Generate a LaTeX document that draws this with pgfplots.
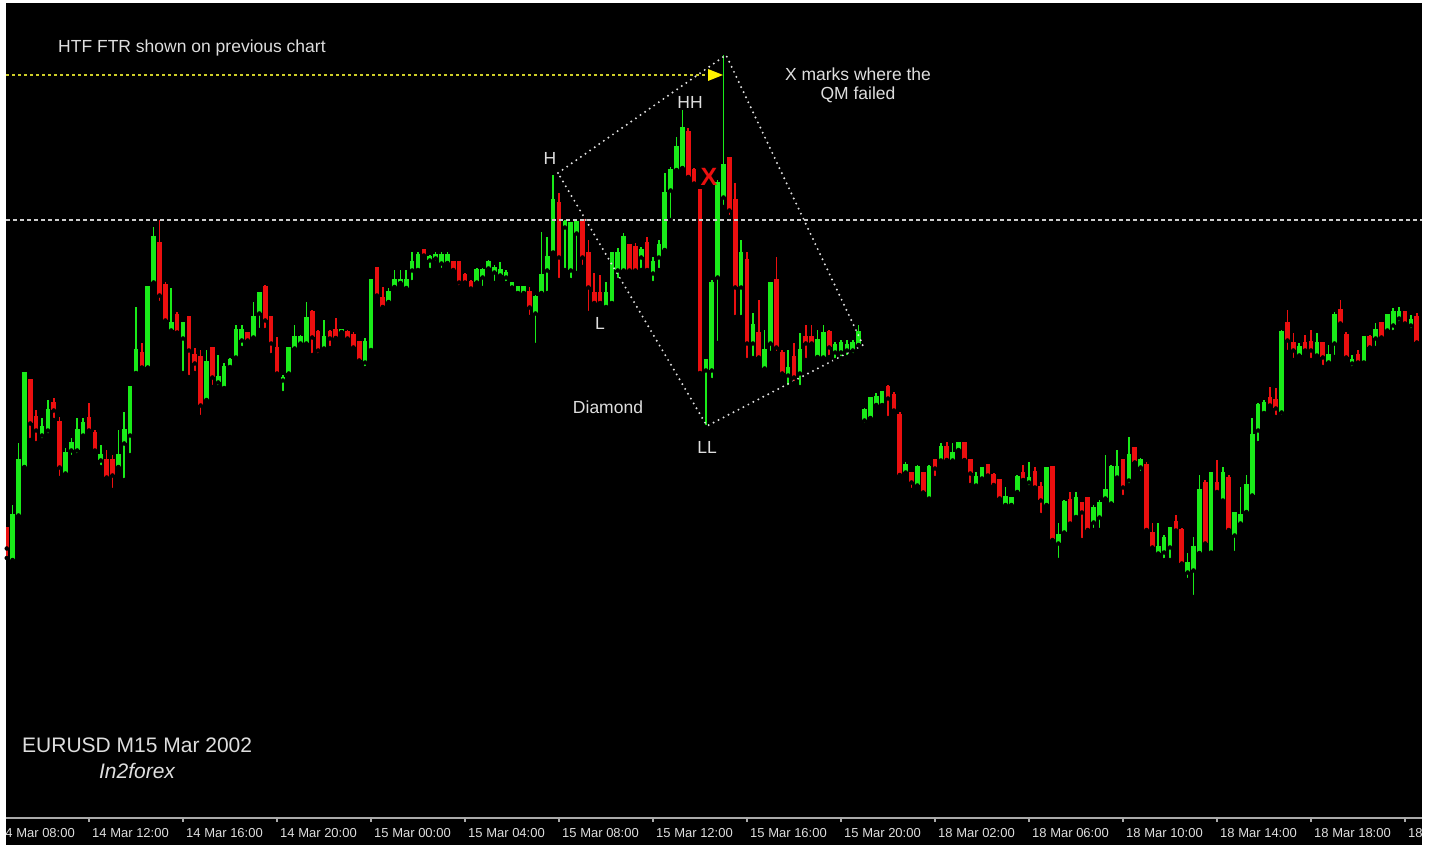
\documentclass[border=0pt]{standalone}
\usepackage{fontspec}
\setmainfont{Liberation Sans}
\usepackage{pgfplots}
\usepackage{pgfplotstable}
\pgfplotsset{compat=1.18}
\definecolor{cgreen}{RGB}{25,235,25}
\definecolor{cred}{RGB}{235,15,15}
\definecolor{txt}{RGB}{222,222,222}
\definecolor{axisgray}{RGB}{170,170,170}
\definecolor{hyellow}{RGB}{205,205,40}
\definecolor{dashgray}{RGB}{205,205,205}

% candle index, open, high, low, close (screen pixel rows, top = 0)
\pgfplotstableread{
i o h l c
2 528 528 558 548
3 560 505 560 515
4 515 443 517 460
5 467 373 467 373
6 380 380 440 423
7 417 410 443 430
8 435 418 440 427
9 430 400 435 410
10 403 398 420 410
11 422 417 478 467
12 473 448 475 453
13 450 438 457 443
14 450 418 455 430
15 435 418 437 423
16 418 403 433 430
17 433 430 453 450
18 460 445 467 455
19 460 450 478 477
20 460 455 490 475
21 467 430 467 455
22 443 412 480 430
23 435 387 455 387
24 373 307 373 350
25 353 343 368 367
26 367 287 368 287
27 282 227 283 237
28 243 220 303 295
29 285 282 322 320
30 330 288 332 323
31 315 312 333 332
32 338 323 373 323
33 317 317 377 350
34 355 348 373 363
35 357 350 417 405
36 400 350 400 362
37 348 348 387 377
38 382 355 387 377
39 388 363 388 367
40 367 358 367 360
41 357 325 360 330
42 340 325 348 330
43 333 332 343 340
44 337 302 338 317
45 313 292 330 293
46 287 285 330 320
47 317 317 355 343
48 348 337 375 373
49 380 375 393 378
50 373 347 375 348
51 348 325 350 337
52 343 335 345 337
53 343 302 345 318
54 312 310 355 337
55 332 330 355 350
56 348 320 350 337
57 332 330 348 338
58 330 318 338 338
59 332 330 332 330
60 332 330 340 338
61 335 332 348 347
62 342 342 362 360
63 362 338 368 342
64 350 280 350 280
65 268 268 297 295
66 298 287 307 307
67 302 288 302 292
68 287 270 287 280
69 283 270 283 280
70 288 270 288 280
71 270 252 282 262
72 270 252 270 255
73 250 250 258 255
74 260 255 270 257
75 258 252 263 255
76 263 252 270 255
77 263 252 263 255
78 262 262 270 270
79 262 262 287 282
80 275 273 283 282
81 282 280 290 288
82 282 268 283 270
83 277 268 288 270
84 268 260 270 262
85 272 265 283 268
86 275 262 277 270
87 277 270 283 273
88 287 282 288 283
89 293 287 293 287
90 293 287 293 287
91 292 287 317 307
92 313 295 345 297
93 293 232 293 275
94 270 237 293 257
95 252 175 253 200
96 203 193 280 257
97 227 220 270 222
98 270 222 280 223
99 233 220 273 222
100 220 220 267 257
101 253 240 313 287
102 293 273 303 303
103 293 275 303 303
104 307 282 307 293
105 303 253 303 253
106 270 248 280 253
107 270 233 273 237
108 245 245 272 270
109 247 243 273 270
110 257 247 270 250
111 243 237 270 270
112 273 257 283 262
113 257 240 270 245
114 250 173 250 193
115 190 167 220 170
116 170 137 170 147
117 168 110 168 128
118 132 128 177 177
119 170 168 185 183
120 190 190 373 373
121 370 360 427 360
122 370 280 380 283
123 277 180 343 183
124 197 55 207 165
125 158 158 217 210
126 200 183 317 287
127 287 240 317 253
128 260 252 360 343
129 343 313 358 325
130 333 300 360 357
131 368 330 370 350
132 343 283 353 283
133 280 257 353 347
134 353 350 377 373
135 375 350 387 368
136 357 343 383 377
137 373 333 387 350
138 337 325 360 343
139 337 325 347 343
140 357 330 357 340
141 357 325 358 333
142 332 330 357 347
143 352 342 360 345
144 352 340 358 343
145 350 340 357 345
146 350 340 355 343
147 345 325 345 332
148 420 408 425 410
149 418 398 418 398
150 405 393 405 397
151 405 392 405 392
152 387 385 418 398
153 395 392 412 410
154 415 412 475 475
155 472 462 475 465
156 473 472 490 482
157 485 465 487 467
158 473 472 493 492
159 498 465 500 467
160 460 460 478 468
161 460 443 462 447
162 447 442 460 460
163 460 443 462 453
164 450 442 450 443
165 443 442 460 460
166 460 460 485 473
167 485 472 487 477
168 478 468 480 468
169 465 465 477 475
170 475 473 485 485
171 480 480 500 498
172 505 487 505 497
173 505 498 505 498
174 492 475 492 477
175 473 465 480 480
176 482 462 487 478
177 472 467 488 487
178 487 482 515 500
179 505 467 505 468
180 467 467 540 540
181 543 523 560 535
182 532 500 535 502
183 500 492 525 523
184 517 492 517 498
185 503 503 540 512
186 498 498 530 530
187 522 505 530 508
188 517 500 530 503
189 498 455 500 490
190 503 465 505 467
191 477 450 480 467
192 460 460 497 487
193 480 437 485 455
194 448 448 463 462
195 467 458 473 460
196 465 462 530 530
197 533 523 548 547
198 553 523 555 547
199 552 535 560 538
200 547 528 560 528
201 522 515 533 530
202 530 528 565 563
203 572 553 580 563
204 570 537 597 547
205 553 475 553 490
206 483 480 545 543
207 552 472 553 473
208 483 460 492 492
209 500 467 503 473
210 478 475 530 530
211 535 512 553 513
212 523 487 525 515
213 512 475 512 485
214 495 418 498 435
215 430 403 443 405
216 413 400 413 403
217 398 387 407 405
218 400 388 417 408
219 412 330 417 332
220 323 310 352 340
221 343 333 360 350
222 355 343 357 347
223 343 335 352 350
224 342 330 360 350
225 355 333 357 343
226 343 342 367 357
227 362 345 363 355
228 343 312 357 315
229 310 300 325 323
230 335 332 358 357
231 363 355 368 360
232 355 350 365 362
233 362 337 363 337
234 337 335 348 347
235 338 323 348 330
236 323 322 338 337
237 330 315 332 315
238 325 308 332 312
239 318 307 323 312
240 312 312 325 323
241 325 315 330 320
242 317 313 343 342
}\candles

\begin{document}
\begin{tikzpicture}
\fill[white] (-6pt,-27pt) rectangle (1426pt,818pt);
\fill[black] (0pt,-27pt) rectangle (1416pt,815pt);
\begin{axis}[
  at={(0pt,0pt)}, anchor=south west,
  scale only axis, width=1416pt, height=815pt,
  xmin=6, xmax=1422, ymin=27, ymax=842,
  axis x line*=bottom, axis y line=none,
  x axis line style={-, draw=axisgray, line width=1.6pt},
  xtick={89,183,277,371,465,559,653,747,841,935,1029,1123,1217,1311,1405},
  xticklabels={},
  tick align=outside, major tick length=4pt,
  xtick style={draw=axisgray, line width=1.3pt},
  ytick=\empty,
]
% wicks (from low up to high)
\addplot[only marks, mark=none, forget plot,
  restrict expr to domain={\thisrow{o}-\thisrow{c}}{0:1000},
  error bars/.cd, y dir=plus, y explicit, error mark=none,
  error bar style={draw=cgreen, line width=1.6pt}]
  table[x expr={-5+5.875*\thisrow{i}}, y expr={845-\thisrow{l}},
        y error plus expr={\thisrow{l}-\thisrow{h}}] {\candles};
\addplot[only marks, mark=none, forget plot,
  restrict expr to domain={\thisrow{o}-\thisrow{c}}{-1000:-0.01},
  error bars/.cd, y dir=plus, y explicit, error mark=none,
  error bar style={draw=cred, line width=1.6pt}]
  table[x expr={-5+5.875*\thisrow{i}}, y expr={845-\thisrow{l}},
        y error plus expr={\thisrow{l}-\thisrow{h}}] {\candles};
% bodies (from lower edge up to upper edge)
\addplot[only marks, mark=none, forget plot,
  restrict expr to domain={\thisrow{o}-\thisrow{c}}{0:1000},
  error bars/.cd, y dir=plus, y explicit, error mark=none,
  error bar style={draw=cgreen, line width=4.6pt}]
  table[x expr={-5+5.875*\thisrow{i}}, y expr={844.5-max(\thisrow{o},\thisrow{c})},
        y error plus expr={abs(\thisrow{o}-\thisrow{c})+1}] {\candles};
\addplot[only marks, mark=none, forget plot,
  restrict expr to domain={\thisrow{o}-\thisrow{c}}{-1000:-0.01},
  error bars/.cd, y dir=plus, y explicit, error mark=none,
  error bar style={draw=cred, line width=4.6pt}]
  table[x expr={-5+5.875*\thisrow{i}}, y expr={844.5-max(\thisrow{o},\thisrow{c})},
        y error plus expr={abs(\thisrow{o}-\thisrow{c})+1}] {\candles};

% horizontal levels
\draw[dashgray, line width=1.5pt, dash pattern=on 4pt off 3pt] (axis cs:6,625) -- (axis cs:1422,625);
\draw[hyellow, line width=1.5pt, dash pattern=on 3pt off 3pt] (axis cs:6,770) -- (axis cs:709,770);
\fill[yellow] (axis cs:708,776) -- (axis cs:723,770) -- (axis cs:708,764) -- cycle;
% diamond
\draw[white!88!black, line width=2.2pt, line cap=round, dash pattern=on 0pt off 5.6pt]
  (axis cs:558,672) -- (axis cs:726,790) -- (axis cs:863,500) -- (axis cs:707,419) -- cycle;

% annotations
\begin{scope}[every node/.style={text=txt, inner sep=0pt, font=\fontsize{17.5}{20}\selectfont}]
\node[anchor=west] at (axis cs:58,797) {HTF FTR shown on previous chart};
\node at (axis cs:858,771) {X marks where the};
\node at (axis cs:858,750) {QM failed};
\node at (axis cs:550,687) {H};
\node at (axis cs:690,743) {HH};
\node at (axis cs:600,522) {L};
\node at (axis cs:707,398) {LL};
\node at (axis cs:608,438) {Diamond};
\node[anchor=west, font=\fontsize{21}{24}\selectfont] at (axis cs:22,100) {EURUSD M15 Mar 2002};
\node[font=\fontsize{21}{24}\selectfont\itshape] at (axis cs:137,74) {In2forex};
\end{scope}
\node[text=cred, inner sep=0pt, font=\fontsize{25}{25}\selectfont\bfseries] at (axis cs:709,668) {X};
\end{axis}

% time axis labels
\begin{scope}
\clip (0pt,-27pt) rectangle (1416pt,0pt);
\begin{scope}[every node/.style={anchor=west, inner sep=0pt, text=txt, font=\fontsize{13}{15}\selectfont}]
\node at (-8pt,-15pt) {14 Mar 08:00};
\node at (86pt,-15pt) {14 Mar 12:00};
\node at (180pt,-15pt) {14 Mar 16:00};
\node at (274pt,-15pt) {14 Mar 20:00};
\node at (368pt,-15pt) {15 Mar 00:00};
\node at (462pt,-15pt) {15 Mar 04:00};
\node at (556pt,-15pt) {15 Mar 08:00};
\node at (650pt,-15pt) {15 Mar 12:00};
\node at (744pt,-15pt) {15 Mar 16:00};
\node at (838pt,-15pt) {15 Mar 20:00};
\node at (932pt,-15pt) {18 Mar 02:00};
\node at (1026pt,-15pt) {18 Mar 06:00};
\node at (1120pt,-15pt) {18 Mar 10:00};
\node at (1214pt,-15pt) {18 Mar 14:00};
\node at (1308pt,-15pt) {18 Mar 18:00};
\node at (1402pt,-15pt) {18};
\end{scope}
\end{scope}
\pgfresetboundingbox
\path[use as bounding box] (-6pt,-27pt) rectangle (1426pt,818pt);
\end{tikzpicture}
\end{document}
